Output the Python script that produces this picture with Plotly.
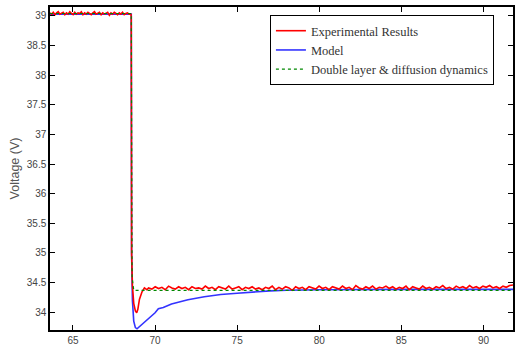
import numpy as np
import plotly.graph_objects as go

# ---- data ----
# Experimental results: pre-step plateau (noisy band)
exp_pre_v = [39.05, 39.03, 39.06, 39.02, 39.05, 39.07, 39.03, 39.04, 39.06, 39.02,
             39.05, 39.03, 39.07, 39.04, 39.02, 39.06, 39.03, 39.05, 39.04, 39.07,
             39.02, 39.05, 39.03, 39.06, 39.04, 39.02, 39.05, 39.07, 39.03, 39.04,
             39.06, 39.02, 39.05, 39.03, 39.04, 39.06, 39.01, 39.05, 39.03, 39.06,
             39.04, 39.02, 39.05, 39.03, 39.06, 39.02, 39.04, 39.05, 39.03, 39.03]
exp_pre_t = list(np.round(np.linspace(63.6, 68.52, len(exp_pre_v)), 3))
# Experimental results: step transient
exp_tr_t = [68.55, 68.57, 68.62, 68.7, 68.8, 68.88, 68.95, 69.05, 69.2, 69.35, 69.5]
exp_tr_v = [39.0, 35.0, 34.45, 34.15, 34.02, 33.99, 34.05, 34.22, 34.34, 34.41, 34.38]
# Experimental results: post-step plateau (noisy band)
exp_post_v = [34.41, 34.39, 34.43, 34.40, 34.42, 34.38, 34.44, 34.41, 34.39, 34.43,
              34.40, 34.42, 34.38, 34.43, 34.40, 34.41, 34.39, 34.44, 34.40, 34.42,
              34.38, 34.43, 34.41, 34.39, 34.44, 34.39, 34.41, 34.43, 34.38, 34.42,
              34.40, 34.43, 34.39, 34.41, 34.38, 34.42, 34.40, 34.44, 34.38, 34.42,
              34.39, 34.43, 34.41, 34.37, 34.43, 34.40, 34.42, 34.38, 34.43, 34.41,
              34.39, 34.44, 34.40, 34.42, 34.38, 34.43, 34.41, 34.39, 34.44, 34.40,
              34.42, 34.38, 34.45, 34.41, 34.39, 34.43, 34.40, 34.44, 34.39, 34.42,
              34.41, 34.44, 34.40, 34.43, 34.39, 34.42, 34.40, 34.44, 34.38, 34.43,
              34.41, 34.39, 34.44, 34.40, 34.42, 34.39, 34.43, 34.41, 34.45, 34.40,
              34.42, 34.39, 34.44, 34.41, 34.43, 34.40, 34.45, 34.41, 34.43, 34.40,
              34.44, 34.42, 34.45, 34.41, 34.43, 34.40, 34.44, 34.42, 34.45, 34.46]
exp_post_t = list(np.round(np.linspace(69.6, 91.8, len(exp_post_v)), 3))

# Model
model_t = [63.6, 68.55, 68.57, 68.62, 68.7, 68.8, 68.9, 69.2, 69.6, 70.0, 70.2, 70.5, 71.0,
           72.0, 73.0, 74.0, 75.0, 76.0, 77.0, 78.0, 80.0, 85.0, 91.8]
model_v = [39.03, 39.03, 35.0, 34.2, 33.85, 33.74, 33.72, 33.79, 33.89, 33.99, 34.06, 34.08, 34.14,
           34.21, 34.26, 34.30, 34.32, 34.345, 34.36, 34.37, 34.38, 34.385, 34.385]

# Double layer & diffusion dynamics
dl_t = [63.6, 68.55, 68.6, 68.7, 91.8]
dl_v = [39.04, 39.04, 34.6, 34.37, 34.37]

x_ticks = [65, 70, 75, 80, 85, 90]
y_ticks = [34, 34.5, 35, 35.5, 36, 36.5, 37, 37.5, 38, 38.5, 39]
y_tick_labels = ["34", "34.5", "35", "35.5", "36", "36.5", "37", "37.5", "38", "38.5", "39"]

fig = go.Figure()
fig.add_trace(go.Scatter(x=model_t, y=model_v, mode="lines", name="Model",
                         line=dict(color="#3333ff", width=1.6), legendrank=2))
fig.add_trace(go.Scatter(x=exp_pre_t + exp_tr_t + exp_post_t,
                         y=exp_pre_v + exp_tr_v + exp_post_v, mode="lines",
                         name="Experimental Results",
                         line=dict(color="#ff0000", width=1.6), legendrank=1))
fig.add_trace(go.Scatter(x=dl_t, y=dl_v, mode="lines", name="Double layer & diffusion dynamics",
                         line=dict(color="#008800", width=1.2, dash="dot"), legendrank=3))

axis_common = dict(showline=True, linecolor="black", linewidth=1.5, mirror="ticks",
                   ticks="inside", ticklen=5, tickcolor="black", showgrid=False, zeroline=False,
                   tickfont=dict(family="Liberation Sans, Arial", size=10, color="#444"))

fig.update_xaxes(range=[63.6, 91.8], tickvals=x_ticks, **axis_common)
fig.update_yaxes(range=[33.7, 39.15], tickvals=y_ticks, ticktext=y_tick_labels,
                 title=dict(text="Voltage (V)", standoff=4,
                            font=dict(family="Liberation Sans, Arial", size=12.5, color="#555")),
                 **axis_common)

fig.update_layout(
    width=530, height=357,
    margin=dict(l=50, r=17, t=5, b=27),
    paper_bgcolor="white", plot_bgcolor="white",
    showlegend=True,
    legend=dict(x=0.475, y=0.975, xanchor="left", yanchor="top",
                bgcolor="white", bordercolor="black", borderwidth=1,
                font=dict(family="Liberation Serif, Times New Roman", size=12.5, color="#333"),
                itemwidth=30, tracegroupgap=0),
)

fig.write_html("out.html")
